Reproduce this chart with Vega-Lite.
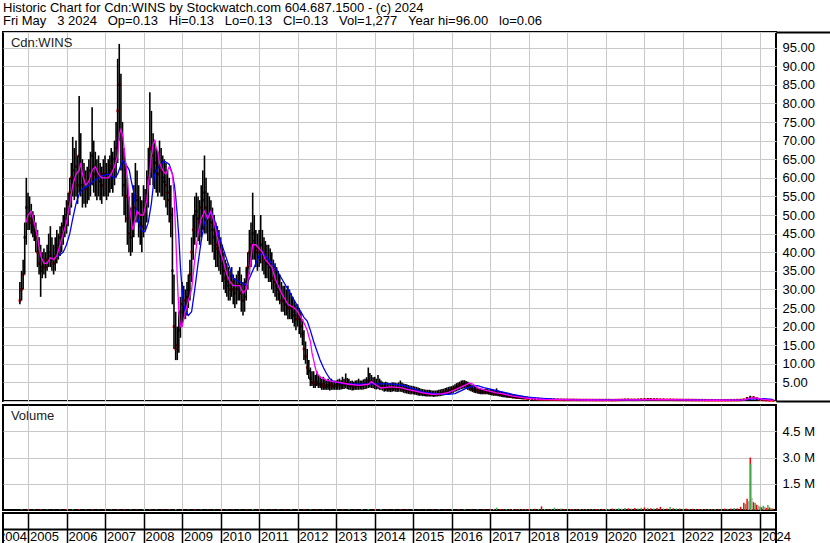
{
"$schema":"https://vega.github.io/schema/vega-lite/v6.json",
"padding":{"left":1,"top":1,"right":0,"bottom":0},
"background":"white",
"title":{"text":["Historic Chart for Cdn:WINS by Stockwatch.com 604.687.1500 - (c) 2024","Fri May\u00a0\u00a0\u00a03 2024\u00a0\u00a0\u00a0Op=0.13\u00a0\u00a0\u00a0Hi=0.13\u00a0\u00a0\u00a0Lo=0.13\u00a0\u00a0\u00a0Cl=0.13\u00a0\u00a0\u00a0Vol=1,277\u00a0\u00a0\u00a0Year hi=96.00\u00a0\u00a0\u00a0lo=0.06"],"anchor":"start","fontSize":13,"fontWeight":"normal","font":"Liberation Sans","color":"#000","lineHeight":13.5,"offset":2,"frame":"group"},
"config":{"view":{"stroke":"#000","strokeWidth":2},"axis":{"labelFont":"Liberation Sans","labelOverlap":false}},
"datasets":{
"p":[
{"d":"2004-10-16","h":32,"l":26,"c":27},{"d":"2004-11-01","h":35,"l":27,"c":30},{"d":"2004-11-16","h":38,"l":30,"c":34},{"d":"2004-12-01","h":48,"l":34,"c":44},{"d":"2004-12-16","h":60,"l":42,"c":52},
{"d":"2005-01-01","h":56,"l":46,"c":50},{"d":"2005-01-16","h":55,"l":46,"c":49},{"d":"2005-02-01","h":53,"l":45,"c":48},{"d":"2005-02-16","h":51,"l":44,"c":47},{"d":"2005-03-01","h":50,"l":43,"c":46},{"d":"2005-03-16","h":48,"l":40,"c":44},{"d":"2005-04-01","h":46,"l":36,"c":40},{"d":"2005-04-16","h":44,"l":34,"c":37},{"d":"2005-05-01","h":42,"l":28,"c":35},{"d":"2005-05-16","h":40,"l":33,"c":36},{"d":"2005-06-01","h":41,"l":34,"c":38},{"d":"2005-06-16","h":40,"l":33,"c":36},{"d":"2005-07-01","h":42,"l":35,"c":38},{"d":"2005-07-16","h":45,"l":36,"c":40},{"d":"2005-08-01","h":47,"l":36,"c":39},{"d":"2005-08-16","h":44,"l":35,"c":38},{"d":"2005-09-01","h":42,"l":34,"c":37},{"d":"2005-09-16","h":44,"l":35,"c":39},{"d":"2005-10-01","h":46,"l":37,"c":41},{"d":"2005-10-16","h":45,"l":38,"c":42},{"d":"2005-11-01","h":47,"l":39,"c":44},{"d":"2005-11-16","h":48,"l":40,"c":45},{"d":"2005-12-01","h":50,"l":42,"c":47},{"d":"2005-12-16","h":52,"l":44,"c":49},
{"d":"2006-01-01","h":54,"l":45,"c":50},{"d":"2006-01-16","h":56,"l":47,"c":53},{"d":"2006-02-01","h":60,"l":50,"c":56},{"d":"2006-02-16","h":64,"l":52,"c":60},{"d":"2006-03-01","h":71,"l":55,"c":62},{"d":"2006-03-16","h":68,"l":54,"c":60},{"d":"2006-04-01","h":70,"l":55,"c":63},{"d":"2006-04-16","h":66,"l":53,"c":58},{"d":"2006-05-01","h":82,"l":56,"c":66},{"d":"2006-05-16","h":72,"l":55,"c":62},{"d":"2006-06-01","h":65,"l":52,"c":58},{"d":"2006-06-16","h":64,"l":53,"c":60},{"d":"2006-07-01","h":62,"l":52,"c":57},{"d":"2006-07-16","h":63,"l":53,"c":59},{"d":"2006-08-01","h":65,"l":54,"c":60},{"d":"2006-08-16","h":67,"l":55,"c":62},{"d":"2006-09-01","h":79,"l":58,"c":66},{"d":"2006-09-16","h":70,"l":56,"c":63},{"d":"2006-10-01","h":67,"l":55,"c":61},{"d":"2006-10-16","h":65,"l":54,"c":60},{"d":"2006-11-01","h":66,"l":55,"c":61},{"d":"2006-11-16","h":64,"l":54,"c":59},{"d":"2006-12-01","h":63,"l":53,"c":58},{"d":"2006-12-16","h":65,"l":55,"c":61},
{"d":"2007-01-01","h":66,"l":55,"c":61},{"d":"2007-01-16","h":64,"l":54,"c":60},{"d":"2007-02-01","h":65,"l":55,"c":61},{"d":"2007-02-16","h":66,"l":56,"c":62},{"d":"2007-03-01","h":68,"l":57,"c":63},{"d":"2007-03-16","h":67,"l":56,"c":62},{"d":"2007-04-01","h":70,"l":58,"c":65},{"d":"2007-04-16","h":75,"l":60,"c":68},{"d":"2007-05-01","h":92,"l":64,"c":78},{"d":"2007-05-16","h":96,"l":70,"c":85},{"d":"2007-06-01","h":88,"l":62,"c":72},{"d":"2007-06-16","h":75,"l":55,"c":64},{"d":"2007-07-01","h":68,"l":50,"c":58},{"d":"2007-07-16","h":64,"l":48,"c":55},{"d":"2007-08-01","h":60,"l":42,"c":49},{"d":"2007-08-16","h":55,"l":40,"c":45},{"d":"2007-09-01","h":52,"l":39,"c":44},{"d":"2007-09-16","h":56,"l":40,"c":48},{"d":"2007-10-01","h":58,"l":44,"c":52},{"d":"2007-10-16","h":64,"l":48,"c":55},{"d":"2007-11-01","h":62,"l":48,"c":54},{"d":"2007-11-16","h":58,"l":44,"c":50},{"d":"2007-12-01","h":55,"l":42,"c":48},{"d":"2007-12-16","h":54,"l":40,"c":47},
{"d":"2008-01-01","h":58,"l":44,"c":50},{"d":"2008-01-16","h":57,"l":46,"c":52},{"d":"2008-02-01","h":62,"l":48,"c":56},{"d":"2008-02-16","h":68,"l":52,"c":60},{"d":"2008-03-01","h":83,"l":58,"c":68},{"d":"2008-03-16","h":78,"l":60,"c":68},{"d":"2008-04-01","h":72,"l":58,"c":66},{"d":"2008-04-16","h":70,"l":57,"c":64},{"d":"2008-05-01","h":68,"l":56,"c":62},{"d":"2008-05-16","h":67,"l":55,"c":61},{"d":"2008-06-01","h":70,"l":56,"c":63},{"d":"2008-06-16","h":68,"l":55,"c":62},{"d":"2008-07-01","h":66,"l":55,"c":60},{"d":"2008-07-16","h":65,"l":54,"c":59},{"d":"2008-08-01","h":64,"l":52,"c":58},{"d":"2008-08-16","h":62,"l":50,"c":56},{"d":"2008-09-01","h":60,"l":48,"c":54},{"d":"2008-09-16","h":58,"l":44,"c":50},{"d":"2008-10-01","h":52,"l":26,"c":35},{"d":"2008-10-16","h":34,"l":14,"c":20},{"d":"2008-11-01","h":24,"l":11,"c":14},{"d":"2008-11-16","h":20,"l":11,"c":15},{"d":"2008-12-01","h":24,"l":13,"c":19},{"d":"2008-12-16","h":28,"l":17,"c":24},
{"d":"2009-01-01","h":32,"l":20,"c":26},{"d":"2009-01-16","h":31,"l":22,"c":27},{"d":"2009-02-01","h":30,"l":22,"c":25},{"d":"2009-02-16","h":32,"l":23,"c":28},{"d":"2009-03-01","h":34,"l":25,"c":30},{"d":"2009-03-16","h":38,"l":27,"c":34},{"d":"2009-04-01","h":44,"l":32,"c":40},{"d":"2009-04-16","h":50,"l":38,"c":46},{"d":"2009-05-01","h":55,"l":42,"c":50},{"d":"2009-05-16","h":56,"l":44,"c":51},{"d":"2009-06-01","h":55,"l":43,"c":49},{"d":"2009-06-16","h":54,"l":42,"c":48},{"d":"2009-07-01","h":58,"l":44,"c":52},{"d":"2009-07-16","h":62,"l":46,"c":54},{"d":"2009-08-01","h":66,"l":45,"c":56},{"d":"2009-08-16","h":60,"l":45,"c":52},{"d":"2009-09-01","h":56,"l":43,"c":50},{"d":"2009-09-16","h":55,"l":42,"c":49},{"d":"2009-10-01","h":54,"l":42,"c":48},{"d":"2009-10-16","h":52,"l":40,"c":46},{"d":"2009-11-01","h":50,"l":38,"c":44},{"d":"2009-11-16","h":48,"l":36,"c":42},{"d":"2009-12-01","h":47,"l":36,"c":41},{"d":"2009-12-16","h":46,"l":35,"c":40},
{"d":"2010-01-01","h":44,"l":34,"c":39},{"d":"2010-01-16","h":42,"l":32,"c":37},{"d":"2010-02-01","h":40,"l":30,"c":35},{"d":"2010-02-16","h":38,"l":29,"c":33},{"d":"2010-03-01","h":37,"l":28,"c":32},{"d":"2010-03-16","h":36,"l":27,"c":31},{"d":"2010-04-01","h":35,"l":27,"c":30},{"d":"2010-04-16","h":36,"l":28,"c":32},{"d":"2010-05-01","h":34,"l":26,"c":30},{"d":"2010-05-16","h":33,"l":25,"c":29},{"d":"2010-06-01","h":34,"l":26,"c":30},{"d":"2010-06-16","h":35,"l":27,"c":31},{"d":"2010-07-01","h":36,"l":27,"c":31},{"d":"2010-07-16","h":34,"l":24,"c":29},{"d":"2010-08-01","h":32,"l":23,"c":27},{"d":"2010-08-16","h":33,"l":24,"c":28},{"d":"2010-09-01","h":36,"l":27,"c":32},{"d":"2010-09-16","h":40,"l":30,"c":36},{"d":"2010-10-01","h":46,"l":34,"c":40},{"d":"2010-10-16","h":48,"l":36,"c":42},{"d":"2010-11-01","h":56,"l":38,"c":45},{"d":"2010-11-16","h":50,"l":38,"c":43},{"d":"2010-12-01","h":46,"l":36,"c":41},{"d":"2010-12-16","h":45,"l":35,"c":40},
{"d":"2011-01-01","h":46,"l":36,"c":41},{"d":"2011-01-16","h":50,"l":37,"c":42},{"d":"2011-02-01","h":46,"l":35,"c":40},{"d":"2011-02-16","h":44,"l":34,"c":39},{"d":"2011-03-01","h":43,"l":33,"c":38},{"d":"2011-03-16","h":42,"l":33,"c":37},{"d":"2011-04-01","h":42,"l":32,"c":37},{"d":"2011-04-16","h":41,"l":32,"c":36},{"d":"2011-05-01","h":40,"l":30,"c":35},{"d":"2011-05-16","h":38,"l":29,"c":33},{"d":"2011-06-01","h":37,"l":28,"c":32},{"d":"2011-06-16","h":36,"l":27,"c":31},{"d":"2011-07-01","h":35,"l":27,"c":30},{"d":"2011-07-16","h":34,"l":26,"c":29},{"d":"2011-08-01","h":32,"l":24,"c":27},{"d":"2011-08-16","h":31,"l":24,"c":27},{"d":"2011-09-01","h":31,"l":23,"c":26},{"d":"2011-09-16","h":30,"l":23,"c":26},{"d":"2011-10-01","h":31,"l":22,"c":25},{"d":"2011-10-16","h":30,"l":22,"c":25},{"d":"2011-11-01","h":29,"l":22,"c":25},{"d":"2011-11-16","h":28,"l":21,"c":24},{"d":"2011-12-01","h":27,"l":20,"c":23},{"d":"2011-12-16","h":26,"l":19,"c":22},
{"d":"2012-01-01","h":26,"l":20,"c":23},{"d":"2012-01-16","h":25,"l":18,"c":22},{"d":"2012-02-01","h":24,"l":17,"c":20},{"d":"2012-02-16","h":22,"l":15,"c":18},{"d":"2012-03-01","h":19,"l":11,"c":14},{"d":"2012-03-16","h":16,"l":10,"c":12},{"d":"2012-04-01","h":14,"l":7,"c":9},{"d":"2012-04-16","h":11,"l":6,"c":8},{"d":"2012-05-01","h":9,"l":4,"c":6},{"d":"2012-05-16","h":8,"l":4,"c":5},{"d":"2012-06-01","h":8,"l":3.5,"c":5},{"d":"2012-06-16","h":7,"l":3.5,"c":4.5},{"d":"2012-07-01","h":8,"l":4,"c":5},{"d":"2012-07-16","h":7,"l":3.5,"c":4.5},{"d":"2012-08-01","h":6.5,"l":3.5,"c":4.5},{"d":"2012-08-16","h":6,"l":3,"c":4},{"d":"2012-09-01","h":6.5,"l":3,"c":4.5},{"d":"2012-09-16","h":6,"l":3,"c":4},{"d":"2012-10-01","h":5.5,"l":3,"c":4},{"d":"2012-10-16","h":6,"l":3,"c":4.2},{"d":"2012-11-01","h":5.5,"l":2.8,"c":4},{"d":"2012-11-16","h":6,"l":3,"c":4.5},{"d":"2012-12-01","h":5.5,"l":3,"c":4},{"d":"2012-12-16","h":5.5,"l":3,"c":4},
{"d":"2013-01-01","h":5.5,"l":3,"c":4.2},{"d":"2013-01-16","h":5.8,"l":3,"c":4.3},{"d":"2013-02-01","h":6,"l":3,"c":4.4},{"d":"2013-02-16","h":5.6,"l":3.1,"c":4.2},{"d":"2013-03-01","h":6.5,"l":3.2,"c":4.5},{"d":"2013-03-16","h":6,"l":3.2,"c":4.4},{"d":"2013-04-01","h":7.4,"l":3.4,"c":4.8},{"d":"2013-04-16","h":6.2,"l":3.2,"c":4.5},{"d":"2013-05-01","h":6,"l":3,"c":4.3},{"d":"2013-05-16","h":5.4,"l":3,"c":4.1},{"d":"2013-06-01","h":5.5,"l":2.8,"c":4},{"d":"2013-06-16","h":5.2,"l":2.9,"c":3.9},{"d":"2013-07-01","h":5.5,"l":3,"c":4.2},{"d":"2013-07-16","h":5.6,"l":3,"c":4.1},{"d":"2013-08-01","h":6,"l":3,"c":4.3},{"d":"2013-08-16","h":5.5,"l":3.1,"c":4.2},{"d":"2013-09-01","h":5.5,"l":3,"c":4.2},{"d":"2013-09-16","h":5.8,"l":3.1,"c":4.3},{"d":"2013-10-01","h":6,"l":3.2,"c":4.5},{"d":"2013-10-16","h":6.4,"l":3.3,"c":4.7},{"d":"2013-11-01","h":9,"l":3.5,"c":5.5},{"d":"2013-11-16","h":7.5,"l":3.6,"c":5.2},{"d":"2013-12-01","h":7,"l":3.5,"c":5},{"d":"2013-12-16","h":6.4,"l":3.4,"c":4.8},
{"d":"2014-01-01","h":6.5,"l":3.2,"c":4.6},{"d":"2014-01-16","h":6,"l":3.1,"c":4.4},{"d":"2014-02-01","h":7,"l":3.2,"c":4.5},{"d":"2014-02-16","h":6,"l":3,"c":4.2},{"d":"2014-03-01","h":5.5,"l":3,"c":4},{"d":"2014-03-16","h":5.2,"l":2.8,"c":3.8},{"d":"2014-04-01","h":5,"l":2.5,"c":3.6},{"d":"2014-04-16","h":5.2,"l":2.6,"c":3.7},{"d":"2014-05-01","h":5,"l":2.5,"c":3.5},{"d":"2014-05-16","h":4.8,"l":2.5,"c":3.4},{"d":"2014-06-01","h":4.8,"l":2.4,"c":3.4},{"d":"2014-06-16","h":5,"l":2.5,"c":3.5},{"d":"2014-07-01","h":5,"l":2.6,"c":3.6},{"d":"2014-07-16","h":4.9,"l":2.5,"c":3.5},{"d":"2014-08-01","h":4.8,"l":2.4,"c":3.4},{"d":"2014-08-16","h":5,"l":2.5,"c":3.5},{"d":"2014-09-01","h":5.5,"l":2.5,"c":3.6},{"d":"2014-09-16","h":5,"l":2.4,"c":3.4},{"d":"2014-10-01","h":4.7,"l":2.2,"c":3.2},{"d":"2014-10-16","h":4.6,"l":2.1,"c":3.1},{"d":"2014-11-01","h":4.5,"l":2,"c":3},{"d":"2014-11-16","h":4.3,"l":1.9,"c":2.9},{"d":"2014-12-01","h":4.2,"l":1.8,"c":2.8},{"d":"2014-12-16","h":4.1,"l":1.8,"c":2.7},
{"d":"2015-01-01","h":4,"l":1.8,"c":2.6},{"d":"2015-01-16","h":3.9,"l":1.7,"c":2.5},{"d":"2015-02-01","h":3.8,"l":1.6,"c":2.4},{"d":"2015-02-16","h":3.6,"l":1.5,"c":2.3},{"d":"2015-03-01","h":3.5,"l":1.4,"c":2.2},{"d":"2015-03-16","h":3.3,"l":1.4,"c":2.1},{"d":"2015-04-01","h":3.2,"l":1.3,"c":2},{"d":"2015-04-16","h":3.1,"l":1.3,"c":1.9},{"d":"2015-05-01","h":3,"l":1.2,"c":1.8},{"d":"2015-05-16","h":3,"l":1.2,"c":1.8},{"d":"2015-06-01","h":3,"l":1.2,"c":1.8},{"d":"2015-06-16","h":2.9,"l":1.2,"c":1.7},{"d":"2015-07-01","h":2.8,"l":1.2,"c":1.7},{"d":"2015-07-16","h":2.8,"l":1.1,"c":1.7},{"d":"2015-08-01","h":2.8,"l":1.2,"c":1.8},{"d":"2015-08-16","h":2.9,"l":1.2,"c":1.8},{"d":"2015-09-01","h":3,"l":1.3,"c":1.9},{"d":"2015-09-16","h":3.1,"l":1.3,"c":1.9},{"d":"2015-10-01","h":3.2,"l":1.4,"c":2},{"d":"2015-10-16","h":3.3,"l":1.5,"c":2.2},{"d":"2015-11-01","h":3.5,"l":1.6,"c":2.4},{"d":"2015-11-16","h":3.6,"l":1.7,"c":2.5},{"d":"2015-12-01","h":3.8,"l":1.8,"c":2.6},{"d":"2015-12-16","h":3.9,"l":1.9,"c":2.8},
{"d":"2016-01-01","h":4,"l":2,"c":3},{"d":"2016-01-16","h":4.2,"l":2.2,"c":3.2},{"d":"2016-02-01","h":4.5,"l":2.5,"c":3.4},{"d":"2016-02-16","h":4.8,"l":2.6,"c":3.6},{"d":"2016-03-01","h":5,"l":2.8,"c":3.8},{"d":"2016-03-16","h":5.2,"l":3,"c":4.1},{"d":"2016-04-01","h":5.5,"l":3.2,"c":4.4},{"d":"2016-04-16","h":5.6,"l":3.3,"c":4.5},{"d":"2016-05-01","h":5.6,"l":3.4,"c":4.6},{"d":"2016-05-16","h":5.4,"l":3.2,"c":4.4},{"d":"2016-06-01","h":5.2,"l":3,"c":4.2},{"d":"2016-06-16","h":4.9,"l":2.8,"c":3.8},{"d":"2016-07-01","h":4.5,"l":2.6,"c":3.4},{"d":"2016-07-16","h":4.2,"l":2.4,"c":3.2},{"d":"2016-08-01","h":4,"l":2.2,"c":3},{"d":"2016-08-16","h":3.8,"l":2.1,"c":2.9},{"d":"2016-09-01","h":3.6,"l":2,"c":2.7},{"d":"2016-09-16","h":3.5,"l":1.9,"c":2.6},{"d":"2016-10-01","h":3.4,"l":1.8,"c":2.5},{"d":"2016-10-16","h":3.3,"l":1.8,"c":2.5},{"d":"2016-11-01","h":3.2,"l":1.8,"c":2.4},{"d":"2016-11-16","h":3.3,"l":1.8,"c":2.4},{"d":"2016-12-01","h":3.2,"l":1.8,"c":2.4},{"d":"2016-12-16","h":3.1,"l":1.7,"c":2.3},
{"d":"2017-01-01","h":3.2,"l":1.6,"c":2.2},{"d":"2017-01-16","h":3,"l":1.5,"c":2.1},{"d":"2017-02-01","h":3,"l":1.4,"c":2.1},{"d":"2017-02-16","h":2.9,"l":1.4,"c":2},{"d":"2017-03-01","h":3.4,"l":1.4,"c":2.2},{"d":"2017-03-16","h":2.8,"l":1.3,"c":1.9},{"d":"2017-04-01","h":2.6,"l":1.2,"c":1.8},{"d":"2017-04-16","h":2.5,"l":1.1,"c":1.7},{"d":"2017-05-01","h":2.4,"l":1,"c":1.6},{"d":"2017-05-16","h":2.3,"l":1,"c":1.5},{"d":"2017-06-01","h":2.2,"l":0.9,"c":1.4},{"d":"2017-06-16","h":2.1,"l":0.9,"c":1.4},{"d":"2017-07-01","h":2,"l":0.8,"c":1.3},{"d":"2017-07-16","h":1.9,"l":0.8,"c":1.2},{"d":"2017-08-01","h":1.8,"l":0.7,"c":1.1},{"d":"2017-08-16","h":1.7,"l":0.7,"c":1.1},{"d":"2017-09-01","h":1.6,"l":0.6,"c":1},{"d":"2017-09-16","h":1.6,"l":0.6,"c":0.95},{"d":"2017-10-01","h":1.5,"l":0.6,"c":0.9},{"d":"2017-10-16","h":1.45,"l":0.55,"c":0.85},{"d":"2017-11-01","h":1.4,"l":0.5,"c":0.8},{"d":"2017-11-16","h":1.35,"l":0.5,"c":0.8},{"d":"2017-12-01","h":1.3,"l":0.5,"c":0.8},{"d":"2017-12-16","h":1.2,"l":0.45,"c":0.7},
{"d":"2018-01-01","h":1.1,"l":0.4,"c":0.65},{"d":"2018-02-01","h":1,"l":0.35,"c":0.6},{"d":"2018-03-01","h":0.95,"l":0.3,"c":0.55},{"d":"2018-04-01","h":0.9,"l":0.3,"c":0.5},{"d":"2018-05-01","h":0.85,"l":0.25,"c":0.45},{"d":"2018-06-01","h":0.8,"l":0.25,"c":0.42},{"d":"2018-07-01","h":0.7,"l":0.22,"c":0.4},{"d":"2018-08-01","h":0.65,"l":0.2,"c":0.38},{"d":"2018-09-01","h":0.6,"l":0.2,"c":0.36},{"d":"2018-10-01","h":0.6,"l":0.18,"c":0.34},{"d":"2018-11-01","h":0.55,"l":0.18,"c":0.32},{"d":"2018-12-01","h":0.5,"l":0.15,"c":0.3},
{"d":"2019-01-01","h":0.5,"l":0.15,"c":0.3},{"d":"2019-02-01","h":0.5,"l":0.16,"c":0.3},{"d":"2019-03-01","h":0.55,"l":0.16,"c":0.32},{"d":"2019-04-01","h":0.5,"l":0.15,"c":0.3},{"d":"2019-05-01","h":0.45,"l":0.14,"c":0.28},{"d":"2019-06-01","h":0.45,"l":0.14,"c":0.27},{"d":"2019-07-01","h":0.5,"l":0.15,"c":0.28},{"d":"2019-08-01","h":0.45,"l":0.13,"c":0.26},{"d":"2019-09-01","h":0.45,"l":0.13,"c":0.26},{"d":"2019-10-01","h":0.42,"l":0.12,"c":0.25},{"d":"2019-11-01","h":0.42,"l":0.12,"c":0.25},{"d":"2019-12-01","h":0.4,"l":0.12,"c":0.24},
{"d":"2020-01-01","h":0.45,"l":0.12,"c":0.25},{"d":"2020-02-01","h":0.45,"l":0.13,"c":0.26},{"d":"2020-03-01","h":0.4,"l":0.1,"c":0.22},{"d":"2020-04-01","h":0.42,"l":0.11,"c":0.24},{"d":"2020-05-01","h":0.5,"l":0.13,"c":0.28},{"d":"2020-06-01","h":0.55,"l":0.15,"c":0.3},{"d":"2020-07-01","h":0.6,"l":0.16,"c":0.33},{"d":"2020-08-01","h":0.6,"l":0.17,"c":0.34},{"d":"2020-09-01","h":0.55,"l":0.16,"c":0.32},{"d":"2020-10-01","h":0.55,"l":0.16,"c":0.31},{"d":"2020-11-01","h":0.6,"l":0.17,"c":0.33},{"d":"2020-12-01","h":0.65,"l":0.18,"c":0.36},
{"d":"2021-01-01","h":0.7,"l":0.2,"c":0.4},{"d":"2021-02-01","h":0.8,"l":0.22,"c":0.45},{"d":"2021-03-01","h":0.75,"l":0.22,"c":0.42},{"d":"2021-04-01","h":0.7,"l":0.2,"c":0.4},{"d":"2021-05-01","h":0.65,"l":0.2,"c":0.38},{"d":"2021-06-01","h":0.6,"l":0.18,"c":0.36},{"d":"2021-07-01","h":0.6,"l":0.18,"c":0.35},{"d":"2021-08-01","h":0.55,"l":0.17,"c":0.33},{"d":"2021-09-01","h":0.6,"l":0.17,"c":0.34},{"d":"2021-10-01","h":0.55,"l":0.16,"c":0.32},{"d":"2021-11-01","h":0.5,"l":0.15,"c":0.3},{"d":"2021-12-01","h":0.5,"l":0.15,"c":0.29},
{"d":"2022-01-01","h":0.5,"l":0.15,"c":0.28},{"d":"2022-02-01","h":0.48,"l":0.14,"c":0.27},{"d":"2022-03-01","h":0.48,"l":0.14,"c":0.27},{"d":"2022-04-01","h":0.45,"l":0.13,"c":0.25},{"d":"2022-05-01","h":0.42,"l":0.12,"c":0.24},{"d":"2022-06-01","h":0.4,"l":0.11,"c":0.22},{"d":"2022-07-01","h":0.4,"l":0.11,"c":0.22},{"d":"2022-08-01","h":0.38,"l":0.1,"c":0.21},{"d":"2022-09-01","h":0.36,"l":0.1,"c":0.2},{"d":"2022-10-01","h":0.35,"l":0.1,"c":0.2},{"d":"2022-11-01","h":0.35,"l":0.1,"c":0.19},{"d":"2022-12-01","h":0.34,"l":0.1,"c":0.19},
{"d":"2023-01-01","h":0.34,"l":0.1,"c":0.19},{"d":"2023-02-01","h":0.35,"l":0.1,"c":0.2},{"d":"2023-03-01","h":0.36,"l":0.11,"c":0.2},{"d":"2023-04-01","h":0.38,"l":0.11,"c":0.21},{"d":"2023-05-01","h":0.4,"l":0.12,"c":0.22},{"d":"2023-06-01","h":0.42,"l":0.12,"c":0.24},{"d":"2023-07-01","h":0.45,"l":0.13,"c":0.26},{"d":"2023-08-01","h":0.6,"l":0.15,"c":0.35},{"d":"2023-09-01","h":1.1,"l":0.3,"c":0.7},{"d":"2023-10-01","h":1.4,"l":0.4,"c":0.9},{"d":"2023-11-01","h":1.3,"l":0.4,"c":0.85},{"d":"2023-12-01","h":1,"l":0.3,"c":0.65},
{"d":"2024-01-01","h":0.7,"l":0.2,"c":0.45},{"d":"2024-02-01","h":0.5,"l":0.15,"c":0.3},{"d":"2024-03-01","h":0.4,"l":0.12,"c":0.22},{"d":"2024-04-01","h":0.3,"l":0.1,"c":0.16},{"d":"2024-05-03","h":0.13,"l":0.13,"c":0.13}
],
"m":[
{"d":"2004-12-16","v":48},{"d":"2005-01-01","v":50},{"d":"2005-02-01","v":51},{"d":"2005-03-01","v":48},{"d":"2005-04-01","v":44},{"d":"2005-05-01","v":39},{"d":"2005-06-01","v":37},{"d":"2005-07-01","v":37},{"d":"2005-08-01","v":38.5},{"d":"2005-09-01","v":38},{"d":"2005-10-01","v":39},{"d":"2005-11-01","v":42},{"d":"2005-12-01","v":45},
{"d":"2006-01-01","v":48},{"d":"2006-02-01","v":53},{"d":"2006-03-01","v":58},{"d":"2006-04-01","v":61},{"d":"2006-05-01","v":62},{"d":"2006-05-16","v":64},{"d":"2006-06-01","v":61},{"d":"2006-07-01","v":58},{"d":"2006-08-01","v":59},{"d":"2006-09-01","v":62},{"d":"2006-10-01","v":63},{"d":"2006-11-01","v":61},{"d":"2006-12-01","v":60},
{"d":"2007-01-01","v":60},{"d":"2007-02-01","v":60},{"d":"2007-03-01","v":61},{"d":"2007-04-01","v":63},{"d":"2007-05-01","v":66},{"d":"2007-05-20","v":72},{"d":"2007-06-01","v":73},{"d":"2007-06-20","v":71},{"d":"2007-07-01","v":68},{"d":"2007-08-01","v":60},{"d":"2007-08-20","v":53},{"d":"2007-09-01","v":50},{"d":"2007-09-20","v":46},{"d":"2007-10-01","v":47},{"d":"2007-11-01","v":51},{"d":"2007-12-01","v":50},
{"d":"2008-01-01","v":50},{"d":"2008-02-01","v":54},{"d":"2008-03-01","v":62},{"d":"2008-03-16","v":66},{"d":"2008-04-01","v":69},{"d":"2008-04-16","v":70},{"d":"2008-05-01","v":68},{"d":"2008-05-16","v":67},{"d":"2008-06-01","v":64},{"d":"2008-07-01","v":62},{"d":"2008-08-01","v":61},{"d":"2008-09-01","v":63},{"d":"2008-10-01","v":61},{"d":"2008-10-16","v":56},{"d":"2008-11-01","v":45},{"d":"2008-11-16","v":33},{"d":"2008-12-01","v":24},{"d":"2008-12-16","v":20},
{"d":"2009-01-01","v":20},{"d":"2009-02-01","v":24},{"d":"2009-03-01","v":27},{"d":"2009-04-01","v":30},{"d":"2009-05-01","v":38},{"d":"2009-06-01","v":45},{"d":"2009-07-01","v":49},{"d":"2009-08-01","v":51},{"d":"2009-09-01","v":49},{"d":"2009-10-01","v":51},{"d":"2009-11-01","v":48},{"d":"2009-12-01","v":44},
{"d":"2010-01-01","v":40},{"d":"2010-02-01","v":37},{"d":"2010-03-01","v":34},{"d":"2010-04-01","v":32},{"d":"2010-05-01","v":31},{"d":"2010-06-01","v":31},{"d":"2010-07-01","v":31},{"d":"2010-08-01","v":29},{"d":"2010-09-01","v":30},{"d":"2010-10-01","v":35},{"d":"2010-11-01","v":42},{"d":"2010-12-01","v":42},
{"d":"2011-01-01","v":41},{"d":"2011-02-01","v":40},{"d":"2011-03-01","v":38},{"d":"2011-04-01","v":37},{"d":"2011-05-01","v":36},{"d":"2011-06-01","v":33},{"d":"2011-07-01","v":31},{"d":"2011-08-01","v":29},{"d":"2011-09-01","v":27.5},{"d":"2011-10-01","v":26},{"d":"2011-11-01","v":25.5},{"d":"2011-12-01","v":25},
{"d":"2012-01-01","v":24},{"d":"2012-02-01","v":22.5},{"d":"2012-03-01","v":21},{"d":"2012-04-01","v":19},{"d":"2012-04-20","v":17},{"d":"2012-05-01","v":16},{"d":"2012-05-16","v":13},{"d":"2012-06-01","v":11},{"d":"2012-06-16","v":9},{"d":"2012-07-01","v":7.5},{"d":"2012-08-01","v":6.5},{"d":"2012-09-01","v":6},{"d":"2012-10-01","v":5.6},{"d":"2012-11-01","v":5.4},{"d":"2012-12-01","v":5.2},
{"d":"2013-02-01","v":5},{"d":"2013-05-01","v":4.5},{"d":"2013-08-01","v":4.2},{"d":"2013-11-01","v":4.5},{"d":"2013-12-01","v":5.2},{"d":"2014-01-01","v":4.5},{"d":"2014-03-01","v":3.5},{"d":"2014-06-01","v":3.8},{"d":"2014-09-01","v":3.6},{"d":"2014-11-01","v":3.1},
{"d":"2015-01-01","v":2.8},{"d":"2015-04-01","v":2.2},{"d":"2015-07-01","v":1.8},{"d":"2015-10-01","v":1.9},{"d":"2015-12-01","v":2.3},{"d":"2016-02-01","v":3},{"d":"2016-04-01","v":3.8},{"d":"2016-06-01","v":4.6},{"d":"2016-07-01","v":4.8},{"d":"2016-08-01","v":4.3},{"d":"2016-09-01","v":3.5},{"d":"2016-11-01","v":3},
{"d":"2017-01-01","v":2.6},{"d":"2017-03-01","v":2.2},{"d":"2017-05-01","v":1.9},{"d":"2017-08-01","v":1.3},{"d":"2017-11-01","v":0.9},{"d":"2018-02-01","v":0.6},{"d":"2018-06-01","v":0.42},{"d":"2018-10-01","v":0.35},{"d":"2019-03-01","v":0.3},{"d":"2019-08-01","v":0.27},{"d":"2020-01-01","v":0.25},{"d":"2020-06-01","v":0.28},{"d":"2020-11-01","v":0.32},{"d":"2021-03-01","v":0.42},{"d":"2021-08-01","v":0.35},{"d":"2022-01-01","v":0.3},{"d":"2022-06-01","v":0.24},{"d":"2022-11-01","v":0.2},{"d":"2023-04-01","v":0.21},{"d":"2023-08-01","v":0.3},{"d":"2023-10-01","v":0.75},{"d":"2023-12-01","v":0.8},{"d":"2024-02-01","v":0.45},{"d":"2024-05-01","v":0.18}
],
"b":[
{"d":"2005-10-16","v":39},{"d":"2005-12-01","v":40},{"d":"2006-01-01","v":42},{"d":"2006-02-01","v":45},{"d":"2006-03-01","v":49},{"d":"2006-04-01","v":53},{"d":"2006-05-01","v":55.6},{"d":"2006-06-01","v":57},{"d":"2006-07-01","v":57.5},{"d":"2006-08-01","v":58},{"d":"2006-10-01","v":59.5},{"d":"2006-12-01","v":60.5},
{"d":"2007-02-01","v":61},{"d":"2007-04-01","v":60},{"d":"2007-05-01","v":61},{"d":"2007-06-01","v":63.5},{"d":"2007-06-20","v":64.5},{"d":"2007-07-01","v":64},{"d":"2007-08-01","v":63},{"d":"2007-08-20","v":62},{"d":"2007-09-01","v":60},{"d":"2007-09-20","v":57.5},{"d":"2007-10-01","v":56},{"d":"2007-10-20","v":52},{"d":"2007-11-01","v":50},{"d":"2007-11-20","v":47.6},{"d":"2007-12-15","v":45.7},
{"d":"2008-01-15","v":45.5},{"d":"2008-02-15","v":48},{"d":"2008-03-15","v":53},{"d":"2008-04-15","v":61},{"d":"2008-05-15","v":62.5},{"d":"2008-06-15","v":63.6},{"d":"2008-07-15","v":64.5},{"d":"2008-08-15","v":64},{"d":"2008-09-01","v":63.6},{"d":"2008-09-20","v":62},{"d":"2008-10-01","v":61},{"d":"2008-10-20","v":58},{"d":"2008-11-01","v":55},{"d":"2008-11-16","v":50},{"d":"2008-12-01","v":44},{"d":"2008-12-16","v":36},
{"d":"2009-01-01","v":30},{"d":"2009-01-16","v":26},{"d":"2009-02-01","v":24},{"d":"2009-03-01","v":23},{"d":"2009-04-01","v":24},{"d":"2009-05-01","v":30},{"d":"2009-06-01","v":37},{"d":"2009-07-01","v":43},{"d":"2009-08-01","v":48},{"d":"2009-09-01","v":50},{"d":"2009-10-01","v":51},{"d":"2009-11-01","v":49},{"d":"2009-12-01","v":46},
{"d":"2010-01-01","v":43},{"d":"2010-03-01","v":38},{"d":"2010-05-01","v":33},{"d":"2010-07-01","v":32},{"d":"2010-09-01","v":31},{"d":"2010-11-01","v":35},{"d":"2011-01-01","v":39},{"d":"2011-02-01","v":40},{"d":"2011-04-01","v":38},{"d":"2011-06-01","v":36},{"d":"2011-08-01","v":33},{"d":"2011-10-01","v":30},{"d":"2011-12-01","v":27},
{"d":"2012-02-01","v":24},{"d":"2012-03-01","v":22.5},{"d":"2012-04-01","v":21.5},{"d":"2012-05-01","v":19},{"d":"2012-06-01","v":16},{"d":"2012-07-01","v":13.5},{"d":"2012-08-01","v":11},{"d":"2012-09-01","v":9},{"d":"2012-10-01","v":7.4},{"d":"2012-11-01","v":6},{"d":"2012-12-01","v":5.3},
{"d":"2013-03-01","v":4.7},{"d":"2013-07-01","v":4.5},{"d":"2013-12-01","v":4.6},{"d":"2014-06-01","v":4.6},{"d":"2014-10-01","v":4.2},{"d":"2015-01-01","v":3.3},{"d":"2015-04-01","v":2.4},{"d":"2015-08-01","v":2},{"d":"2015-12-01","v":1.8},{"d":"2016-02-01","v":2},{"d":"2016-04-01","v":2.8},{"d":"2016-06-01","v":3.6},{"d":"2016-08-01","v":4.1},{"d":"2016-09-01","v":4.1},{"d":"2016-11-01","v":3.6},
{"d":"2017-02-01","v":3},{"d":"2017-05-01","v":2.4},{"d":"2017-08-01","v":1.8},{"d":"2017-12-01","v":1.1},{"d":"2018-04-01","v":0.8},{"d":"2018-09-01","v":0.5},{"d":"2019-03-01","v":0.38},{"d":"2019-09-01","v":0.32},{"d":"2020-03-01","v":0.28},{"d":"2020-09-01","v":0.3},{"d":"2021-03-01","v":0.38},{"d":"2021-09-01","v":0.36},{"d":"2022-03-01","v":0.3},{"d":"2022-09-01","v":0.25},{"d":"2023-03-01","v":0.22},{"d":"2023-08-01","v":0.28},{"d":"2023-11-01","v":0.55},{"d":"2024-02-01","v":0.6},{"d":"2024-05-01","v":0.42}
],
"v":[
{"d":"2004-11-01","v":40000,"s":"u"},{"d":"2005-01-01","v":55000,"s":"d"},{"d":"2005-03-01","v":30000,"s":"u"},{"d":"2005-05-01","v":45000,"s":"d"},{"d":"2005-07-01","v":25000,"s":"u"},{"d":"2005-09-01","v":35000,"s":"d"},{"d":"2005-11-01","v":30000,"s":"u"},{"d":"2006-01-01","v":50000,"s":"d"},{"d":"2006-03-01","v":45000,"s":"u"},{"d":"2006-05-01","v":60000,"s":"d"},{"d":"2006-07-01","v":30000,"s":"u"},{"d":"2006-09-01","v":40000,"s":"d"},{"d":"2006-11-01","v":25000,"s":"u"},{"d":"2007-01-01","v":30000,"s":"d"},{"d":"2007-03-01","v":35000,"s":"u"},{"d":"2007-05-01","v":60000,"s":"d"},{"d":"2007-07-01","v":40000,"s":"d"},{"d":"2007-09-01","v":35000,"s":"u"},{"d":"2007-11-01","v":30000,"s":"d"},{"d":"2008-01-01","v":35000,"s":"u"},{"d":"2008-03-01","v":45000,"s":"d"},{"d":"2008-05-01","v":30000,"s":"u"},{"d":"2008-07-01","v":25000,"s":"d"},{"d":"2008-09-01","v":40000,"s":"d"},{"d":"2008-11-01","v":55000,"s":"u"},{"d":"2009-01-01","v":35000,"s":"d"},{"d":"2009-03-01","v":30000,"s":"u"},{"d":"2009-05-01","v":40000,"s":"d"},{"d":"2009-07-01","v":35000,"s":"u"},{"d":"2009-09-01","v":30000,"s":"d"},{"d":"2009-11-01","v":25000,"s":"u"},{"d":"2010-01-01","v":30000,"s":"d"},{"d":"2010-03-01","v":25000,"s":"u"},{"d":"2010-05-01","v":30000,"s":"d"},{"d":"2010-07-01","v":25000,"s":"u"},{"d":"2010-09-01","v":35000,"s":"d"},{"d":"2010-11-01","v":60000,"s":"u"},{"d":"2011-01-01","v":40000,"s":"d"},{"d":"2011-03-01","v":30000,"s":"u"},{"d":"2011-05-01","v":25000,"s":"d"},{"d":"2011-07-01","v":30000,"s":"u"},{"d":"2011-09-01","v":35000,"s":"d"},{"d":"2011-11-01","v":40000,"s":"u"},{"d":"2012-01-01","v":35000,"s":"d"},{"d":"2012-03-01","v":45000,"s":"d"},{"d":"2012-05-01","v":40000,"s":"u"},{"d":"2012-07-01","v":30000,"s":"d"},{"d":"2012-09-01","v":35000,"s":"u"},{"d":"2012-11-01","v":30000,"s":"d"},{"d":"2013-01-01","v":35000,"s":"u"},{"d":"2013-03-01","v":30000,"s":"d"},{"d":"2013-05-01","v":40000,"s":"u"},{"d":"2013-07-01","v":35000,"s":"d"},{"d":"2013-09-01","v":50000,"s":"n"},{"d":"2013-11-01","v":60000,"s":"u"},{"d":"2014-01-01","v":40000,"s":"d"},{"d":"2014-03-01","v":45000,"s":"n"},{"d":"2014-05-01","v":35000,"s":"d"},{"d":"2014-07-01","v":30000,"s":"u"},{"d":"2014-09-01","v":40000,"s":"d"},{"d":"2014-11-01","v":30000,"s":"d"},{"d":"2015-01-01","v":40000,"s":"n"},{"d":"2015-03-01","v":30000,"s":"d"},{"d":"2015-05-01","v":35000,"s":"u"},{"d":"2015-07-01","v":30000,"s":"d"},{"d":"2015-09-01","v":25000,"s":"n"},{"d":"2015-11-01","v":30000,"s":"d"},{"d":"2016-01-01","v":35000,"s":"u"},{"d":"2016-03-01","v":40000,"s":"d"},{"d":"2016-05-01","v":50000,"s":"u"},{"d":"2016-07-01","v":35000,"s":"d"},{"d":"2016-09-01","v":30000,"s":"n"},{"d":"2016-11-01","v":40000,"s":"d"},
{"d":"2017-01-01","v":45000,"s":"d"},{"d":"2017-02-01","v":50000,"s":"n"},{"d":"2017-03-01","v":140000,"s":"u"},{"d":"2017-04-01","v":60000,"s":"d"},{"d":"2017-05-01","v":40000,"s":"d"},{"d":"2017-06-01","v":55000,"s":"u"},{"d":"2017-07-01","v":45000,"s":"d"},{"d":"2017-08-01","v":60000,"s":"n"},{"d":"2017-09-01","v":50000,"s":"d"},{"d":"2017-10-01","v":40000,"s":"u"},{"d":"2017-11-01","v":55000,"s":"d"},{"d":"2017-12-01","v":45000,"s":"u"},
{"d":"2018-01-01","v":60000,"s":"d"},{"d":"2018-02-01","v":50000,"s":"u"},{"d":"2018-03-01","v":70000,"s":"d"},{"d":"2018-04-01","v":55000,"s":"u"},{"d":"2018-05-01","v":210000,"s":"d"},{"d":"2018-06-01","v":60000,"s":"u"},{"d":"2018-07-01","v":45000,"s":"d"},{"d":"2018-08-01","v":50000,"s":"u"},{"d":"2018-09-01","v":130000,"s":"u"},{"d":"2018-10-01","v":70000,"s":"d"},{"d":"2018-11-01","v":80000,"s":"u"},{"d":"2018-12-01","v":50000,"s":"d"},
{"d":"2019-01-01","v":40000,"s":"u"},{"d":"2019-02-01","v":60000,"s":"d"},{"d":"2019-03-01","v":45000,"s":"u"},{"d":"2019-04-01","v":50000,"s":"d"},{"d":"2019-05-01","v":40000,"s":"n"},{"d":"2019-06-01","v":55000,"s":"d"},{"d":"2019-07-01","v":45000,"s":"u"},{"d":"2019-08-01","v":50000,"s":"d"},{"d":"2019-09-01","v":40000,"s":"u"},{"d":"2019-10-01","v":60000,"s":"d"},{"d":"2019-11-01","v":45000,"s":"u"},{"d":"2019-12-01","v":50000,"s":"d"},
{"d":"2020-01-01","v":60000,"s":"u"},{"d":"2020-02-01","v":50000,"s":"n"},{"d":"2020-03-01","v":80000,"s":"d"},{"d":"2020-04-01","v":70000,"s":"u"},{"d":"2020-05-01","v":100000,"s":"u"},{"d":"2020-06-01","v":90000,"s":"n"},{"d":"2020-07-01","v":120000,"s":"u"},{"d":"2020-08-01","v":100000,"s":"d"},{"d":"2020-09-01","v":80000,"s":"u"},{"d":"2020-10-01","v":110000,"s":"d"},{"d":"2020-11-01","v":90000,"s":"u"},{"d":"2020-12-01","v":130000,"s":"u"},
{"d":"2021-01-01","v":150000,"s":"d"},{"d":"2021-02-01","v":120000,"s":"u"},{"d":"2021-03-01","v":100000,"s":"d"},{"d":"2021-04-01","v":90000,"s":"u"},{"d":"2021-05-01","v":110000,"s":"d"},{"d":"2021-06-01","v":180000,"s":"d"},{"d":"2021-07-01","v":90000,"s":"u"},{"d":"2021-08-01","v":80000,"s":"d"},{"d":"2021-09-01","v":170000,"s":"u"},{"d":"2021-10-01","v":100000,"s":"d"},{"d":"2021-11-01","v":90000,"s":"u"},{"d":"2021-12-01","v":80000,"s":"d"},
{"d":"2022-01-01","v":70000,"s":"u"},{"d":"2022-02-01","v":80000,"s":"d"},{"d":"2022-03-01","v":60000,"s":"u"},{"d":"2022-04-01","v":70000,"s":"d"},{"d":"2022-05-01","v":50000,"s":"u"},{"d":"2022-06-01","v":60000,"s":"d"},{"d":"2022-07-01","v":50000,"s":"n"},{"d":"2022-08-01","v":60000,"s":"d"},{"d":"2022-09-01","v":50000,"s":"u"},{"d":"2022-10-01","v":55000,"s":"d"},{"d":"2022-11-01","v":60000,"s":"u"},{"d":"2022-12-01","v":50000,"s":"d"},
{"d":"2023-01-01","v":60000,"s":"u"},{"d":"2023-02-01","v":80000,"s":"d"},{"d":"2023-03-01","v":70000,"s":"u"},{"d":"2023-04-01","v":90000,"s":"d"},{"d":"2023-05-01","v":120000,"s":"u"},{"d":"2023-06-01","v":100000,"s":"d"},{"d":"2023-07-01","v":180000,"s":"d"},{"d":"2023-08-01","v":420000,"s":"d"},{"d":"2023-08-16","v":350000,"s":"u"},{"d":"2023-09-01","v":650000,"s":"d"},{"d":"2023-09-16","v":500000,"s":"n"},{"d":"2023-10-01","v":3000000,"s":"d"},{"d":"2023-10-06","v":2650000,"s":"u"},{"d":"2023-10-16","v":700000,"s":"n"},{"d":"2023-11-01","v":450000,"s":"d"},{"d":"2023-11-16","v":400000,"s":"u"},{"d":"2023-12-01","v":300000,"s":"d"},{"d":"2023-12-16","v":250000,"s":"n"},{"d":"2024-01-01","v":200000,"s":"u"},{"d":"2024-01-16","v":150000,"s":"d"},{"d":"2024-02-01","v":250000,"s":"u"},{"d":"2024-02-16","v":180000,"s":"n"},{"d":"2024-03-01","v":120000,"s":"d"},{"d":"2024-03-16","v":280000,"s":"u"},{"d":"2024-04-01","v":150000,"s":"d"},{"d":"2024-04-16","v":100000,"s":"u"},{"d":"2024-05-01","v":80000,"s":"d"}
],
"yr":[
{"d":"2005-01-01","t":"2005"},{"d":"2006-01-01","t":"2006"},{"d":"2007-01-01","t":"2007"},{"d":"2008-01-01","t":"2008"},{"d":"2009-01-01","t":"2009"},{"d":"2010-01-01","t":"2010"},{"d":"2011-01-01","t":"2011"},{"d":"2012-01-01","t":"2012"},{"d":"2013-01-01","t":"2013"},{"d":"2014-01-01","t":"2014"},{"d":"2015-01-01","t":"2015"},{"d":"2016-01-01","t":"2016"},{"d":"2017-01-01","t":"2017"},{"d":"2018-01-01","t":"2018"},{"d":"2019-01-01","t":"2019"},{"d":"2020-01-01","t":"2020"},{"d":"2021-01-01","t":"2021"},{"d":"2022-01-01","t":"2022"},{"d":"2023-01-01","t":"2023"},{"d":"2024-01-01","t":"2024"}
]
},
"spacing":0,
"vconcat":[
{"width":773,"height":369,
"resolve":{"scale":{"y":"independent"},"axis":{"y":"independent"}},
"layer":[
{"data":{"name":"p"},"mark":{"type":"point","shape":"square","filled":true,"size":7,"color":"#ff0000","opacity":1},
"encoding":{"x":{"field":"d","type":"temporal","scale":{"domain":[{"year":2004,"month":5,"date":9},{"year":2024,"month":6,"date":1}],"nice":false},"axis":{"orient":"bottom","tickCount":{"interval":"year","step":1},"grid":true,"gridColor":"#c8c8c8","gridWidth":1,"labels":false,"ticks":false,"domain":false,"title":null,"minExtent":0,"maxExtent":0}},
"y":{"field":"c","type":"quantitative","scale":{"domain":[0,99.2],"nice":false,"zero":false},"axis":{"orient":"right","values":[0,5,10,15,20,25,30,35,40,45,50,55,60,65,70,75,80,85,90,95,99.2],"labelExpr":"datum.value > 0 && datum.value < 99 ? format(datum.value, '.2f') : ''","labelFontSize":{"condition":{"test":"datum.value == 0 || datum.value > 99","value":0},"value":13},"ticks":true,"tickSize":55,"tickWidth":2,"tickColor":{"condition":{"test":"datum.value == 0 || datum.value > 99","value":"#000"},"value":"rgba(0,0,0,0)"},"labelPadding":-49,"domain":false,"grid":true,"gridColor":"#c8c8c8","gridWidth":1,"labelColor":"#000","title":null,"labelBaseline":"middle","labelOverlap":false}}}},
{"data":{"name":"p"},"mark":{"type":"rule","color":"#000","strokeWidth":1.6},
"encoding":{"x":{"field":"d","type":"temporal"},"y":{"field":"l","type":"quantitative","scale":{"domain":[0,99.2],"nice":false,"zero":false},"axis":null},"y2":{"field":"h"}}},
{"data":{"name":"b"},"mark":{"type":"line","color":"#0000ff","strokeWidth":1.3},
"encoding":{"x":{"field":"d","type":"temporal"},"y":{"field":"v","type":"quantitative","scale":{"domain":[0,99.2],"nice":false,"zero":false},"axis":null}}},
{"data":{"name":"m"},"mark":{"type":"line","color":"#ff00ff","strokeWidth":1.3},
"encoding":{"x":{"field":"d","type":"temporal"},"y":{"field":"v","type":"quantitative","scale":{"domain":[0,99.2],"nice":false,"zero":false},"axis":null}}},
{"data":{"values":[{"k":1}]},"mark":{"type":"text","align":"left","baseline":"middle","fontSize":13,"font":"Liberation Sans","color":"#222"},
"encoding":{"x":{"datum":{"year":2004,"month":7,"date":23},"type":"temporal"},"y":{"datum":96.3,"type":"quantitative","scale":{"domain":[0,99.2],"nice":false,"zero":false},"axis":null},"text":{"value":"Cdn:WINS"}}}
]},
{"spacing":0,
"vconcat":[
{"width":773,"height":105,
"layer":[
{"data":{"name":"v"},"mark":{"type":"rule","strokeWidth":1.5},
"encoding":{"x":{"field":"d","type":"temporal","scale":{"domain":[{"year":2004,"month":5,"date":9},{"year":2024,"month":6,"date":1}],"nice":false},"axis":{"orient":"bottom","tickCount":{"interval":"year","step":1},"grid":true,"gridColor":"#c8c8c8","gridWidth":1,"labels":false,"ticks":false,"domain":false,"title":null,"minExtent":0,"maxExtent":0}},
"y":{"field":"v","type":"quantitative","scale":{"domain":[0,6000000],"nice":false},"axis":{"orient":"right","values":[1500000,3000000,4500000],"labelExpr":"format(datum.value/1000000,'.1f') + ' M'","labelPadding":6,"ticks":false,"domain":false,"grid":true,"gridColor":"#c8c8c8","gridWidth":1,"labelFontSize":13,"labelColor":"#000","title":null,"labelBaseline":"middle","labelOverlap":false}},
"y2":{"datum":0},
"color":{"field":"s","type":"nominal","scale":{"domain":["u","d","n"],"range":["#3cb043","#ff0000","#a8a8a8"]},"legend":null}}},
{"data":{"values":[{"k":1}]},"mark":{"type":"text","align":"left","baseline":"middle","fontSize":13,"font":"Liberation Sans","color":"#222"},
"encoding":{"x":{"datum":{"year":2004,"month":7,"date":23},"type":"temporal"},"y":{"datum":5400000,"type":"quantitative"},"text":{"value":"Volume"}}}
]},
{"width":773,"height":31,
"resolve":{"scale":{"y":"independent"},"axis":{"y":"independent"}},
"layer":[
{"data":{"values":[{"k":1}]},"mark":{"type":"rule","color":"#000","strokeWidth":2},
"encoding":{"y":{"datum":15,"type":"quantitative","scale":{"domain":[0,32],"nice":false},"axis":{"orient":"right","values":[0],"labels":false,"ticks":true,"tickSize":55,"tickWidth":2,"tickColor":"#000","domain":false,"grid":false,"title":null}}}},
{"data":{"name":"yr"},"mark":{"type":"text","align":"left","baseline":"middle","dx":2,"fontSize":13,"font":"Liberation Sans","color":"#000"},
"encoding":{"x":{"field":"d","type":"temporal","scale":{"domain":[{"year":2004,"month":5,"date":9},{"year":2024,"month":6,"date":1}],"nice":false},"axis":{"orient":"bottom","tickCount":{"interval":"year","step":1},"grid":true,"gridColor":"#000","gridWidth":1.5,"gridOpacity":1,"labels":false,"ticks":false,"domain":false,"title":null,"minExtent":0,"maxExtent":0}},
"y":{"datum":7.5,"type":"quantitative","scale":{"domain":[0,32],"nice":false},"axis":null},"text":{"field":"t"}}},
{"data":{"values":[{"t":"2004"}]},"mark":{"type":"text","align":"right","baseline":"middle","dx":-1,"fontSize":13,"font":"Liberation Sans","color":"#000","clip":true},
"encoding":{"x":{"datum":{"year":2005,"month":1,"date":1},"type":"temporal"},"y":{"datum":7.5,"type":"quantitative","scale":{"domain":[0,32],"nice":false},"axis":null},"text":{"field":"t"}}}
]}
]}
]
}
